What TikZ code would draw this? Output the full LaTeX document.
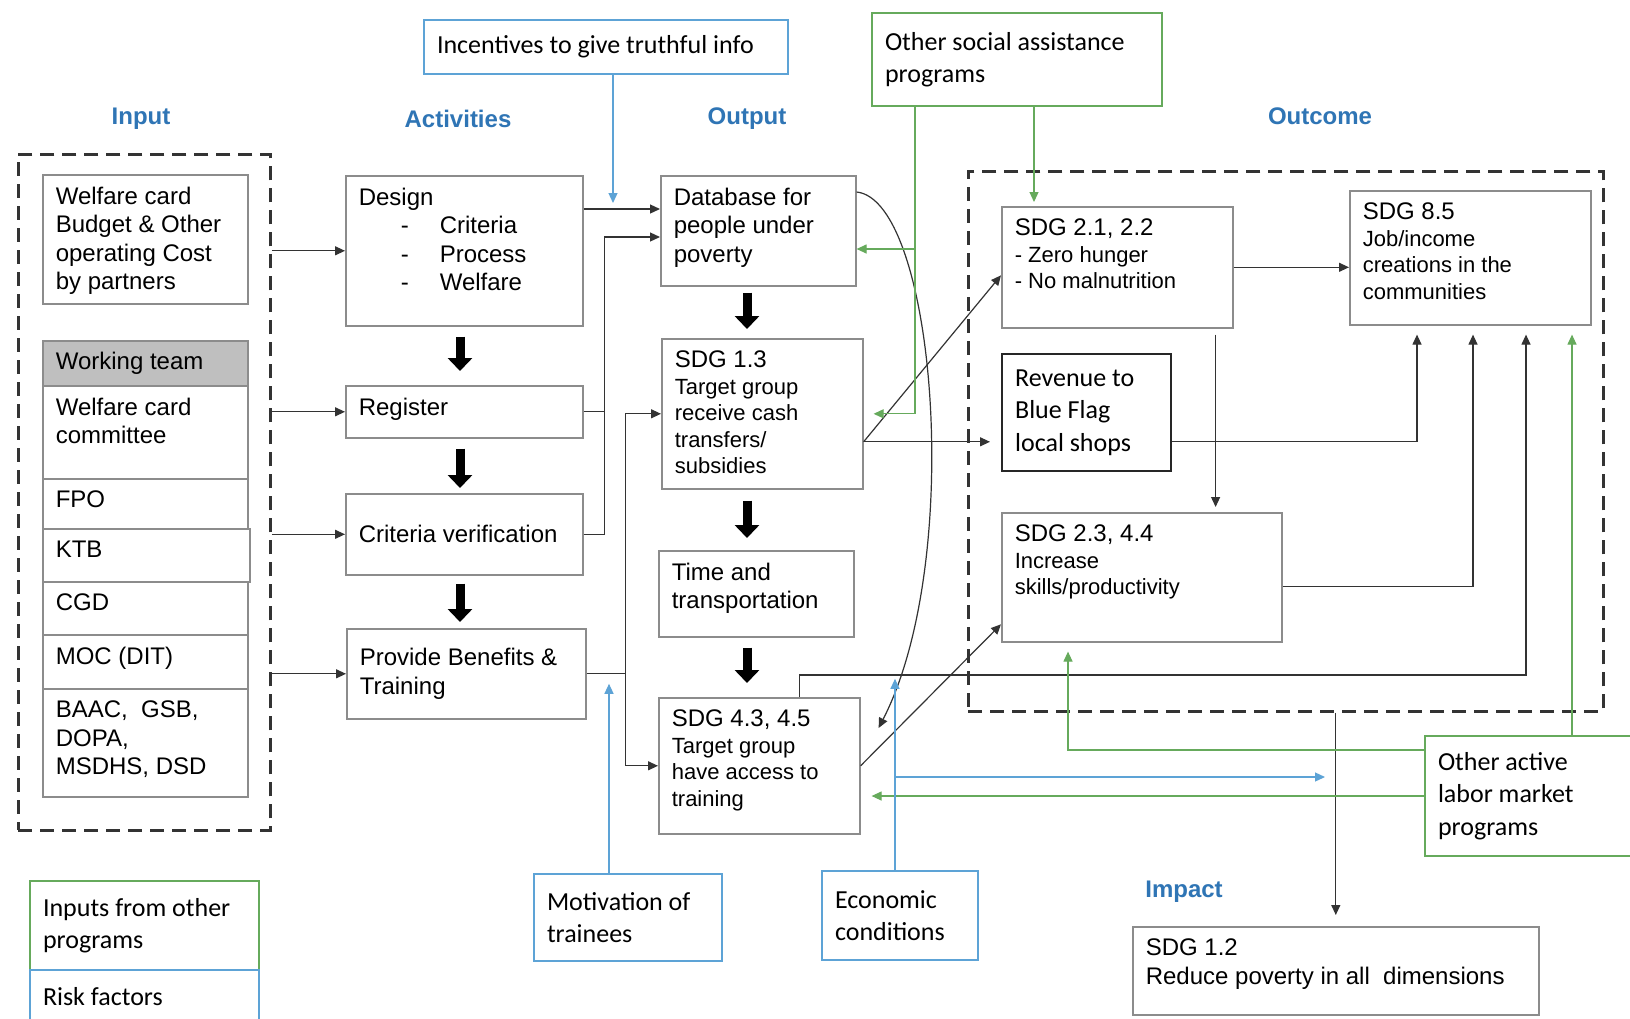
\documentclass[tikz,border=0pt]{standalone}
\usepackage{fontspec}
\setmainfont{Liberation Sans}
\newfontfamily\calfont{Carlito}
\usetikzlibrary{arrows.meta}

\newcommand{\fsMain}{\fontsize{24}{28.5}\selectfont}
\newcommand{\fsSmall}{\fontsize{22}{26.5}\selectfont}
\newcommand{\fsCal}{\calfont\fontsize{26}{32.5}\selectfont}
\newcommand{\fsHead}{\bfseries\fontsize{24}{28}\selectfont}
% box text: width and height of the box
\newcommand{\boxtxt}[4][t]{\parbox[t][\dimexpr#3pt-24pt\relax][#1]{\dimexpr#2pt-26pt\relax}{#4}}
\newcommand{\itemdash}[1]{\hspace*{42pt}-\hspace*{31pt}#1}

\begin{document}
\begin{tikzpicture}[x=1pt, y=-1pt,
  box/.style={draw=boxline, line width=1.6pt, anchor=north west, inner xsep=13pt, inner ysep=12pt, font=\fsMain},
  teambox/.style={box, fill=teamgray},
  shopbox/.style={box, draw=black!85, line width=2.2pt, font=\fsCal},
  greenbox/.style={box, draw=greenl, line width=2pt, font=\fsCal},
  bluebox/.style={box, draw=bluel, line width=2pt, font=\fsCal},
  groupbox/.style={draw=black!80, line width=2.8pt, dash pattern=on 14pt off 8pt, anchor=north west, inner sep=0pt},
  colhead/.style={font=\fsHead, text=headblue},
  conn/.style={draw=black!80, line width=1.2pt},
  arr/.style={conn, -{Triangle[length=10pt,width=9pt]}},
  garr/.style={arr, draw=greenl},
  barr/.style={arr, draw=bluel},
  bigarr/.style={draw=black, line width=9pt, -{Triangle[length=13pt,width=24pt]}}
]

\definecolor{boxline}{RGB}{140,140,140}
\definecolor{teamgray}{RGB}{191,191,191}
\definecolor{greenl}{RGB}{102,170,92}
\definecolor{bluel}{RGB}{93,163,214}
\definecolor{headblue}{RGB}{47,117,181}

\useasboundingbox (0,0) rectangle (1630,1018);
\fill[white] (0,0) rectangle (1630,1018);

% === HEADERS ===
\node[colhead] (hdInput)  at (141,119)  {Input};
\node[colhead] (hdAct)    at (458,119)  {Activities};
\node[colhead] (hdOut)    at (747,119)  {Output};
\node[colhead] (hdOutc)   at (1320,116) {Outcome};
\node[colhead] (hdImpact) at (1184,892) {Impact};

% === INPUT ===
\node[groupbox, minimum width=252pt, minimum height=676pt] (inGroup) at (17,153) {};
\node[box] (inWelfare) at (42,174) {\boxtxt{205}{129}{Welfare card\\Budget \& Other\\operating Cost\\by partners}};
\node[teambox] (inTeam) at (42,340) {\boxtxt[c]{205}{45}{Working team}};
\node[box] (inCommittee) at (42,385) {\boxtxt{205}{93}{Welfare card\\committee}};
\node[box] (inFPO)  at (42,478) {\boxtxt{205}{50}{FPO}};
\node[box] (inKTB)  at (42,528) {\boxtxt{207}{53}{KTB}};
\node[box] (inCGD)  at (42,581) {\boxtxt{205}{53}{CGD}};
\node[box] (inMOC)  at (42,634) {\boxtxt{205}{54}{MOC (DIT)}};
\node[box] (inBAAC) at (42,688) {\boxtxt{205}{108}{BAAC,\ \ GSB,\\DOPA,\\MSDHS, DSD}};

\node[greenbox] (inOther) at (29,880) {\boxtxt[c]{229}{89}{Inputs from other\\programs}};
\node[bluebox]  (inRisk)  at (29,969) {\boxtxt[c]{229}{54}{Risk factors}};

% === ACTIVITIES ===
\node[box] (actDesign) at (345,175) {\boxtxt{237}{150}{Design\\\itemdash{Criteria}\\\itemdash{Process}\\\itemdash{Welfare}}};
\node[box] (actRegister) at (345,385) {\boxtxt{237}{52}{Register}};
\node[box] (actVerify)   at (345,493) {\boxtxt[c]{237}{81}{Criteria verification}};
\node[box] (actProvide)  at (346,628) {\boxtxt[c]{239}{90}{Provide Benefits \&\\Training}};

\node[bluebox] (incent) at (423,19)  {\boxtxt[c]{364}{54}{Incentives to give truthful info}};
\node[bluebox] (motiv)  at (533,873) {\boxtxt[c]{188}{87}{Motivation of\\trainees}};

% === OUTPUT ===
\node[box] (outDb)    at (660,175) {\boxtxt{195}{110}{Database for\\people under\\poverty}};
\node[box] (outSdg13) at (661,338) {\boxtxt{201}{150}{SDG 1.3\\\fsSmall Target group\\receive cash\\transfers/\\subsidies}};
\node[box] (outTime)  at (658,550) {\boxtxt{195}{86}{Time and\\transportation}};
\node[box] (outSdg43) at (658,697) {\boxtxt{201}{136}{SDG 4.3, 4.5\\\fsSmall Target group\\have access to\\training}};

\node[greenbox] (social) at (871,12)  {\boxtxt[c]{290}{93}{Other social assistance\\programs}};
\node[bluebox]  (econ)   at (821,870) {\boxtxt[c]{156}{89}{Economic\\conditions}};

% === OUTCOME ===
\node[groupbox, minimum width=635pt, minimum height=540pt] (ocGroup) at (967,170) {};
\node[box] (ocSdg21) at (1001,206) {\boxtxt{231}{121}{SDG 2.1, 2.2\\\fsSmall - Zero hunger\\- No malnutrition}};
\node[box] (ocSdg85) at (1349,190) {\boxtxt{241}{134}{SDG 8.5\\\fsSmall Job/income\\creations in the\\communities}};
\node[shopbox] (ocRevenue) at (1001,353) {\boxtxt[c]{169}{117}{Revenue to\\Blue Flag\\local shops}};
\node[box] (ocSdg23) at (1001,512) {\boxtxt{280}{129}{SDG 2.3, 4.4\\\fsSmall Increase\\skills/productivity}};

\node[greenbox] (otherAct) at (1424,735) {\boxtxt[c]{215}{120}{Other active\\labor market\\programs}};

% === IMPACT ===
\node[box] (impSdg12) at (1132,926) {\boxtxt{406}{88}{SDG 1.2\\Reduce poverty in all\ \ dimensions}};

% === BLOCK ARROWS ===
\coordinate (actAx) at (460,0);
\coordinate (outAx) at (747,0);
\draw[bigarr, shorten <=10pt, shorten >=14pt] (actDesign.south -| actAx) -- (actRegister.north -| actAx);
\draw[bigarr, shorten <=10pt, shorten >=5pt]  (actRegister.south -| actAx) -- (actVerify.north -| actAx);
\draw[bigarr, shorten <=8pt, shorten >=6pt]   (actVerify.south -| actAx) -- (actProvide.north -| actAx);
\draw[bigarr, shorten <=6pt, shorten >=9pt]   (outDb.south -| outAx) -- (outSdg13.north -| outAx);
\draw[bigarr, shorten <=11pt, shorten >=12pt] (outSdg13.south -| outAx) -- (outTime.north -| outAx);
\draw[bigarr, shorten <=10pt, shorten >=14pt] (outTime.south -| outAx) -- (outSdg43.north -| outAx);

% === INPUT -> ACTIVITIES ===
\foreach \a in {actDesign,actRegister,actVerify,actProvide}{
  \draw[arr] (inGroup.east |- \a.west) -- (\a.west);
}

% === ACTIVITIES -> OUTPUT ===
\coordinate (dbIn1) at ([yshift=-34pt]outDb.north west);
\coordinate (dbIn2) at ([yshift=-62pt]outDb.north west);
\draw[arr] (actDesign.east |- dbIn1) -- (dbIn1);
\draw[arr] (actRegister.east) -- ++(21,0) |- (dbIn2);
\draw[conn] (actVerify.east) -| ([xshift=21pt]actRegister.east);
\draw[arr] (actProvide.east) -- ++(39,0) |- (outSdg13.west);
\draw[arr] (actProvide.east) ++(39,0) |- (outSdg43.west);

% === OUTPUT -> OUTCOME ===
\coordinate (s13out) at ([yshift=-28pt]outSdg13.east);
\draw[arr] (s13out) -- ([yshift=-8pt]ocSdg21.west);
\draw[arr, shorten >=11pt] (s13out) -- (s13out -| ocRevenue.west);
\draw[arr] ([yshift=-17pt]outDb.north east) .. controls (935,200) and (965,560) .. ([xshift=18pt,yshift=-31pt]outSdg43.north east);
\draw[arr] (outSdg43.east) -- ([yshift=-47pt]ocSdg23.west);

% === OUTCOME ===
\draw[arr] (ocSdg21.east) -- (ocSdg21.east -| ocSdg85.west);
\draw[arr, shorten <=6pt, shorten >=5pt] ([xshift=-18pt]ocSdg21.south east) -- ([xshift=-18pt]ocSdg21.south east |- ocSdg23.north);
\draw[arr, shorten >=9pt] ([yshift=-29pt]ocRevenue.east) -| ([xshift=68pt]ocSdg85.south west);
\draw[arr, shorten >=9pt] ([yshift=-9pt]ocSdg23.east) -| ([xshift=124pt]ocSdg85.south west);
\draw[arr, shorten >=9pt] ([xshift=40pt]outSdg43.north) -- ++(0,-22) -| ([xshift=177pt]ocSdg85.south west);
\draw[arr, shorten >=11pt] (ocGroup.south -| impSdg12.north) -- (impSdg12.north);

% === OTHER PROGRAMS (green) ===
\coordinate (socA) at ([xshift=44pt]social.south west);
\coordinate (socB) at ([xshift=163pt]social.south west);
\coordinate (dbG)  at ([yshift=-74pt]outDb.north east);
\draw[garr, shorten >=10pt] (socA) |- (outSdg13.east);
\draw[garr] (socA |- dbG) -- (dbG);
\draw[garr, shorten >=4pt] (socB) -- (socB |- ocSdg21.north);
\draw[garr, shorten >=9pt] ([xshift=148pt]otherAct.north west) -- ([xshift=148pt]otherAct.north west |- ocSdg85.south);
\draw[garr, shorten >=9pt] ([yshift=46pt]otherAct.west) -| ([xshift=67pt]ocSdg23.south west);
\draw[garr, shorten >=11pt] (otherAct.west) -- (otherAct.west -| outSdg43.east);

% === RISK FACTORS (blue) ===
\coordinate (incTip) at (613,203);
\draw[barr] (incent.south -| incTip) -- (incTip);
\coordinate (motUp) at ([xshift=-19pt]motiv.north);
\draw[barr, shorten >=10pt] (motUp) -- (motUp |- actProvide.east);
\coordinate (econUp)  at ([xshift=-5pt]econ.north);
\coordinate (econTip) at (1325,777);
\draw[barr, shorten >=5pt] (econUp) -- (econUp |- actProvide.east);
\draw[barr] (econUp |- econTip) -- (econTip);

\end{tikzpicture}
\end{document}
